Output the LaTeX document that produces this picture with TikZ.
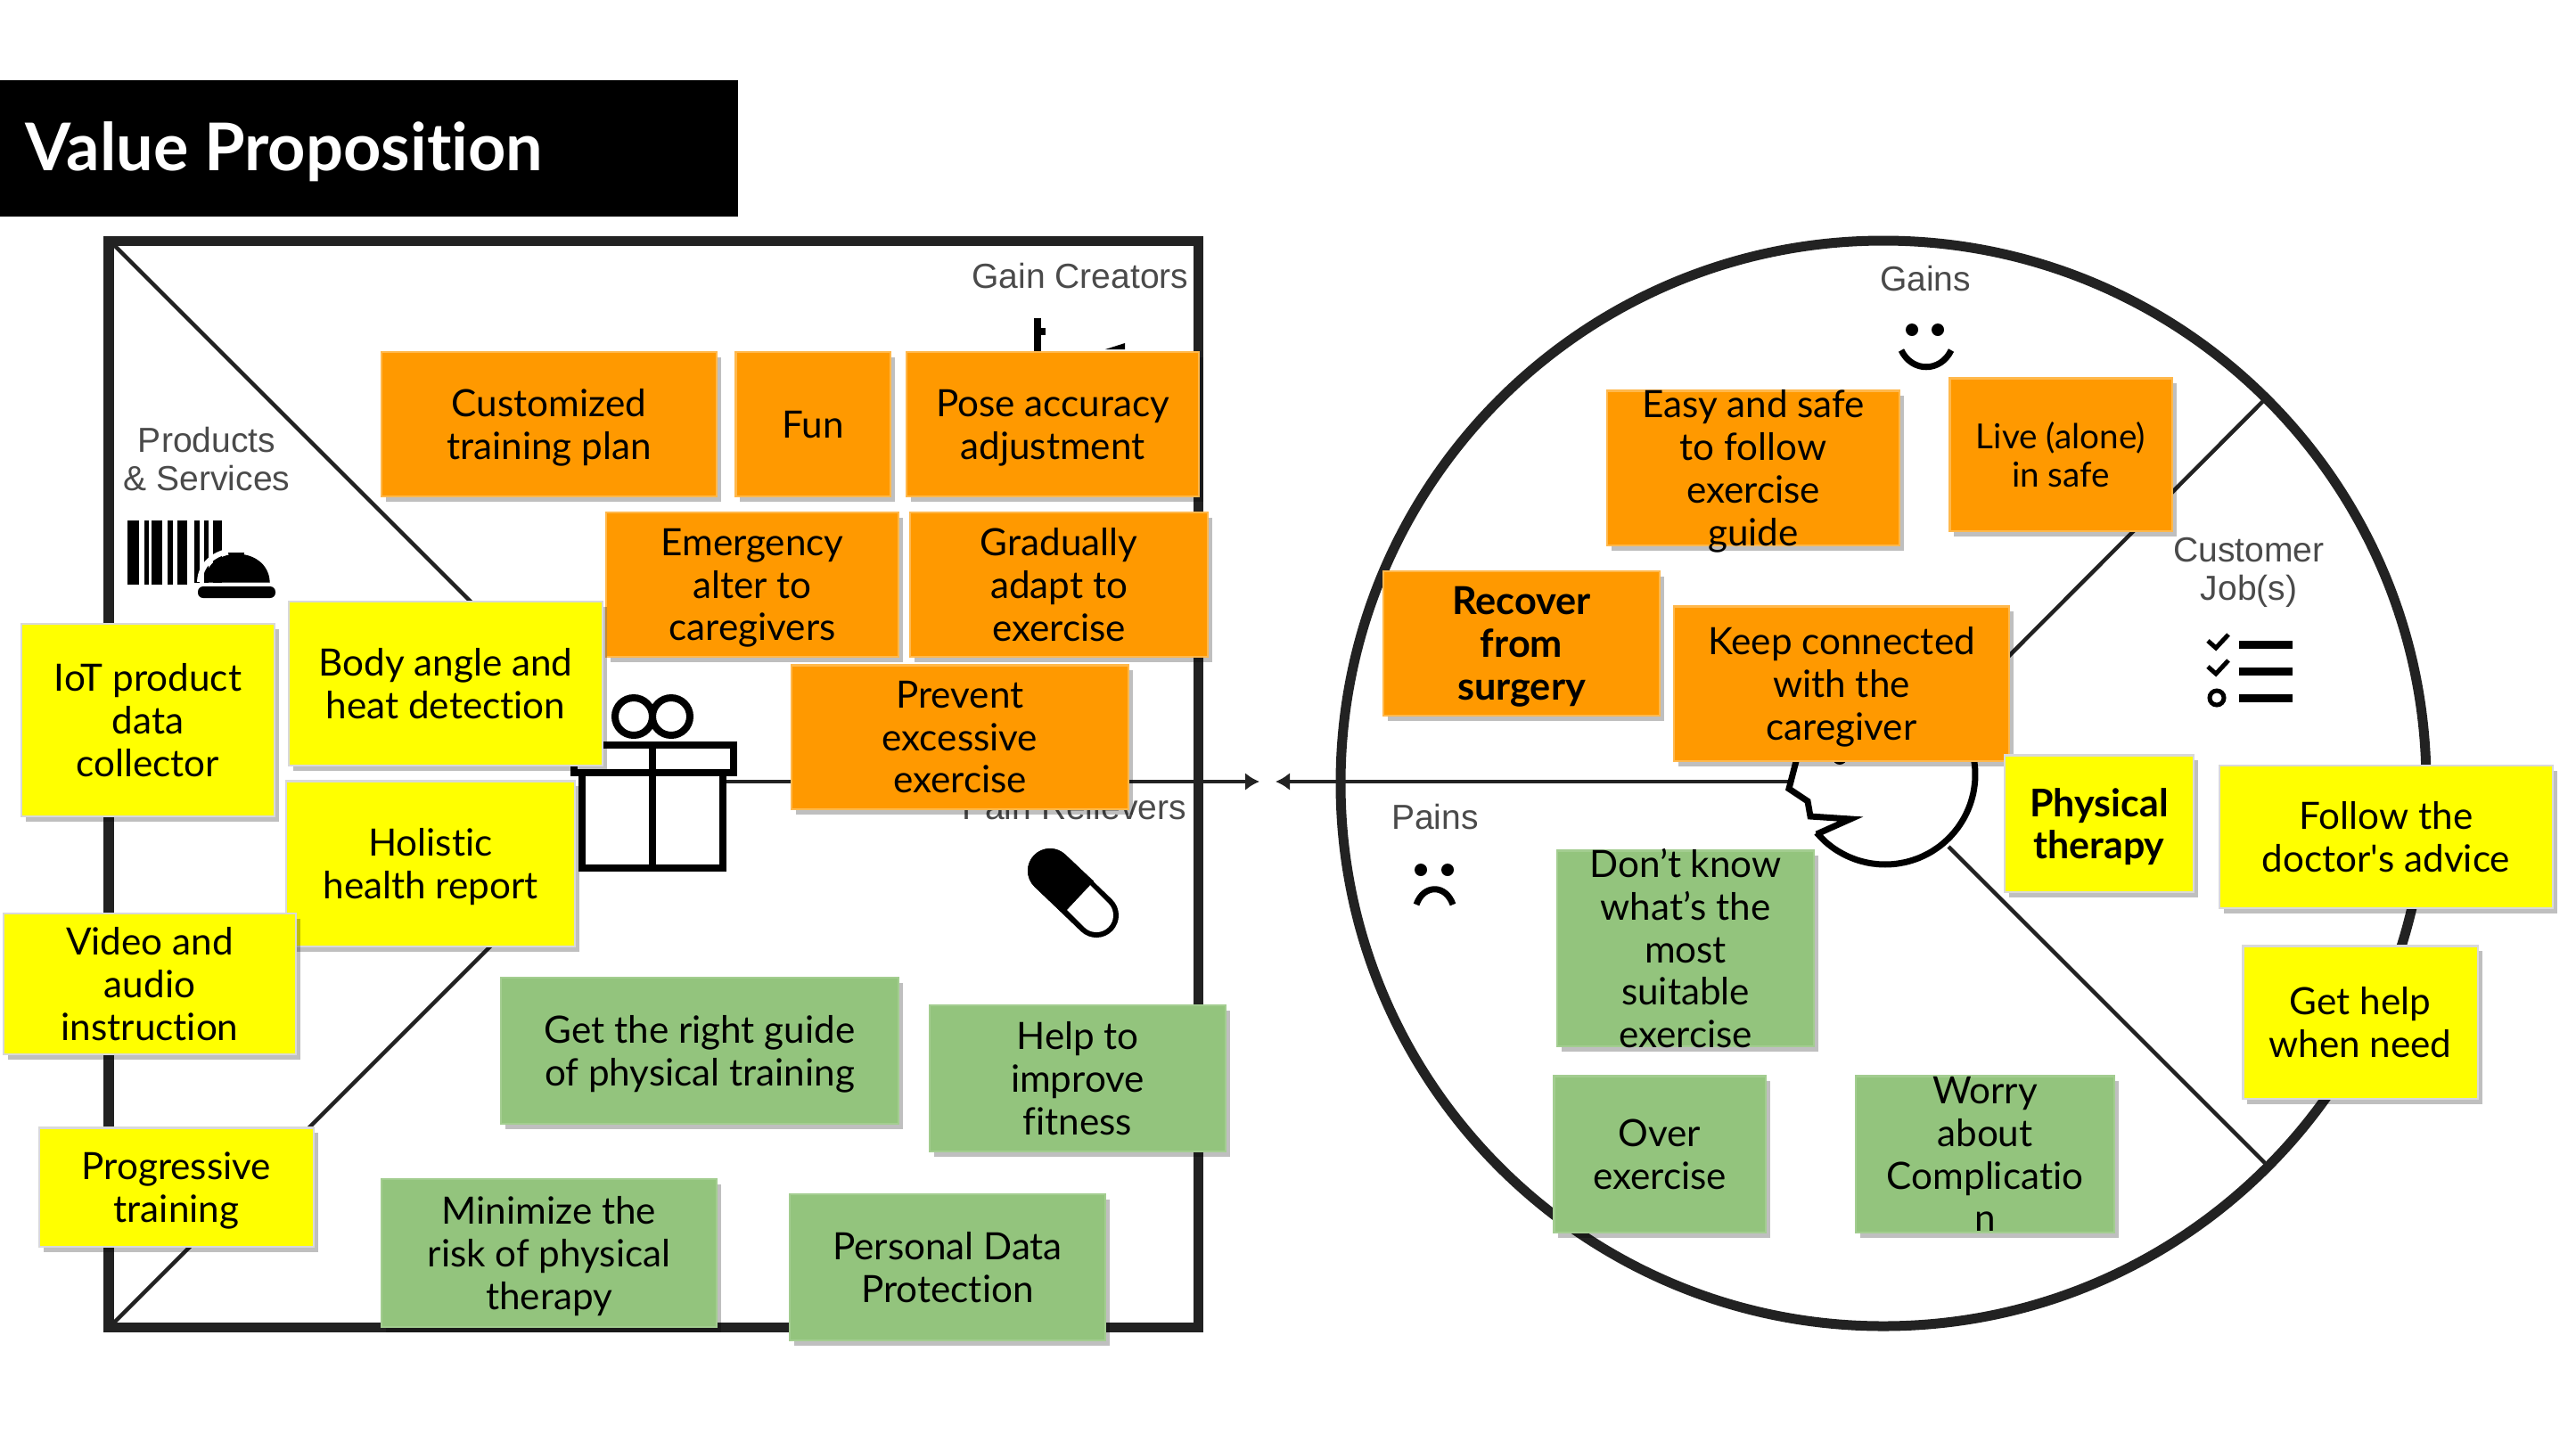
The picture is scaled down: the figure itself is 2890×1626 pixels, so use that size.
\documentclass[tikz,border=0pt]{standalone}
\usepackage{fontspec}
\setmainfont[Ligatures=NoCommon]{Lato}
\newfontfamily\labelfont{Liberation Sans}
\newfontfamily\straightfont{Lato}
\usepackage{xcolor}
\usetikzlibrary{positioning,arrows.meta,shadows}

\definecolor{noteorange}{HTML}{FF9900}
\definecolor{noteyellow}{HTML}{FFFF00}
\definecolor{notegreen}{HTML}{93C47D}
\definecolor{labelgrey}{HTML}{4A4A4A}
\definecolor{frameblack}{HTML}{222222}

\begin{document}
\begin{tikzpicture}[
    x=0.01cm, y=-0.01cm,
    note/.style={rectangle, inner xsep=0pt, inner ysep=-0.4cm, align=center, text=black,
                 font=\fontsize{12}{13.6}\selectfont, line width=0.6pt, text depth=0pt,
                 drop shadow={shadow xshift=0.05cm, shadow yshift=-0.06cm, fill=black, opacity=0.25}},
    orangenote/.style={note, fill=noteorange, draw=noteorange!70!white},
    yellownote/.style={note, fill=noteyellow, draw=black!15},
    greennote/.style={note, fill=notegreen, draw=notegreen!85!white},
    partlabel/.style={inner sep=0pt, align=center, text=labelgrey,
                      font=\labelfont\fontsize{11.1}{12.2}\selectfont},
    frame/.style={draw=frameblack, line width=0.11cm},
    divider/.style={draw=frameblack, line width=0.045cm},
    icon/.style={draw=black, line width=0.08cm},
    >={Latex[length=0.16cm, width=0.2cm]}
]
\useasboundingbox (0,0) rectangle (2890,1626);

% title bar
\fill[black] (0,90) rectangle (828,243);
\node[anchor=west, inner sep=0pt, text=white, font=\bfseries\fontsize{21}{24}\selectfont] (title) at (28,170) {Value Proposition};

% value map and customer profile
\draw[frame] (122,270) rectangle (1344,1489);
\draw[frame] (2113,879) circle[radius=609];

\coordinate (squareTL) at (125,272);
\coordinate (squareBL) at (125,1487);
\coordinate (giftA) at (600,747);
\coordinate (giftB) at (600,1012);
\coordinate (giftR) at (811,877);
\coordinate (tipL) at (1413,877);
\coordinate (tipR) at (1431,877);
\coordinate (faceL) at (2010,877);
\coordinate (headA) at (2190,800);
\coordinate (headB) at (2186,950);
\coordinate (rimA) at (2539,450);
\coordinate (rimB) at (2541,1305);
\draw[divider] (squareTL) -- (giftA);
\draw[divider] (squareBL) -- (giftB);
\draw[divider] (headA) -- (rimA);
\draw[divider] (headB) -- (rimB);
\draw[divider, ->] (giftR) -- (tipL);
\draw[divider, ->] (faceL) -- (tipR);

% gift
\draw[icon] (653,867) rectangle (811,974);
\draw[icon] (644,836) rectangle (823,867);
\draw[icon] (732,836) -- (732,974);
\draw[icon] (711,804) circle[radius=21];
\draw[icon] (753,804) circle[radius=21];

% head
\draw[icon, line width=0.07cm, fill=white] plot[smooth, domain=139.7:-171, samples=40, variable=\a] ({2115+101*cos(\a)},{869+101*sin(\a)})
    -- (2007,885) -- (2028,899) -- (2031,916) -- (2076,919) -- (2038,936);
\fill[black] (2064,850) circle[radius=8];

% part labels and their icons
\node[partlabel] (products) at (232,515) {Products\\\& Services};
\node[partlabel] (creators) at (1212,310) {Gain Creators};
\node[partlabel] (relievers) at (1205,906) {Pain Relievers};
\node[partlabel] (gains) at (2160,313) {Gains};
\node[partlabel] (pains) at (1610,917) {Pains};
\node[partlabel] (jobs) at (2523,642) {Customer\\Job(s)};

% barcode and bell
\foreach \xa/\xb in {143/156,162/167,170/182,188/194,199/210,218/224,229/234,239/249}
    \fill[black] (\xa,584) rectangle (\xb,656);
\draw[black, fill=black] (230,653) .. controls (232,612) and (300,612) .. (302,653) -- cycle;
\draw[white, line width=0.06cm] (224,653) .. controls (226,606) and (306,606) .. (308,653);
\fill[white] (214,654) rectangle (320,658);
\fill[black] (265,620) -- (256,620) arc[start angle=180, end angle=0, radius=9] -- cycle;
\fill[black, rounded corners=0.06cm] (222,658) rectangle (309,671);

% chart stub above the pose note
\fill[black] (1160,357) rectangle (1168,400);
\fill[black] (1168,368) rectangle (1173,376);
\fill[black] (1240,392) -- (1262,385) -- (1262,392) -- cycle;

% capsule
\coordinate (pillA) at (1178,977);
\coordinate (pillS) at (1210,1007);
\coordinate (pillB) at (1230,1027);
\draw[black, line width=0.5cm, line cap=round] (pillA) -- (pillB);
\draw[white, line width=0.38cm, line cap=round] (pillS) -- (pillB);
\draw[black, line width=0.5cm] (pillA) -- (pillS);
\fill[black] (pillA) circle[radius=25];

% smile and frown
\fill[black] (2145,370) circle[radius=7] (2174,370) circle[radius=7];
\draw[black, line width=0.07cm] (2133,393) .. controls (2145,418) and (2177,418) .. (2189,393);
\fill[black] (1594,976) circle[radius=7] (1624,976) circle[radius=7];
\draw[black, line width=0.07cm] (1589,1015) .. controls (1597,992) and (1622,992) .. (1630,1015);

% job list
\foreach \ya in {723,753,783}
    \fill[black] (2512,\ya-4.5) rectangle (2572,\ya+4.5);
\draw[black, line width=0.05cm] (2477,719) -- (2486,727) -- (2500,712);
\draw[black, line width=0.05cm] (2477,748) -- (2486,756) -- (2500,741);
\draw[black, line width=0.05cm] (2487,783) circle[radius=8];

% gain creators
\node[orangenote, minimum width=3.76cm, minimum height=1.62cm] (custom) at (616,476) {Customized\\training plan};
\node[orangenote, minimum width=1.73cm, minimum height=1.62cm] (fun) at (912,476) {Fun};
\node[orangenote, minimum width=3.28cm, minimum height=1.62cm] (pose) at (1181,476) {Pose accuracy\\adjustment};
\node[orangenote, minimum width=3.28cm, minimum height=1.62cm] (alert) at (844,656) {Emergency\\alter to\\caregivers};
\node[orangenote, minimum width=3.34cm, minimum height=1.62cm] (adapt) at (1188,656) {Gradually\\adapt to\\exercise};
\node[orangenote, minimum width=3.78cm, minimum height=1.61cm] (prevent) at (1077,827) {Prevent\\excessive\\exercise};

% products
\node[yellownote, minimum width=2.84cm, minimum height=2.16cm] (iot) at (166,808) {IoT product\\data\\collector};
\node[yellownote, minimum width=3.52cm, minimum height=1.84cm] (body) at (500,767) {Body angle and\\heat detection};
\node[yellownote, minimum width=3.24cm, minimum height=1.85cm] (report) at (483,969) {Holistic\\health report};
\node[yellownote, minimum width=3.28cm, minimum height=1.58cm] (video) at (168,1104) {Video and\\audio\\instruction};
\node[yellownote, minimum width=3.08cm, minimum height=1.33cm] (progress) at (198,1332) {Progressive\\training};

% pain relievers
\node[greennote, minimum width=4.46cm, minimum height=1.64cm] (guide) at (785,1179) {Get the right guide\\of physical training};
\node[greennote, minimum width=3.32cm, minimum height=1.64cm] (fitness) at (1209,1210) {Help to\\improve\\fitness};
\node[greennote, minimum width=3.76cm, minimum height=1.66cm] (risk) at (616,1406) {Minimize the\\risk of physical\\therapy};
\node[greennote, minimum width=3.53cm, minimum height=1.64cm] (privacy) at (1063,1422) {Personal Data\\Protection};

% gains
\node[orangenote, minimum width=3.27cm, minimum height=1.73cm] (easy) at (1967,525) {Easy and safe\\to follow\\exercise\\guide};
\node[orangenote, minimum width=2.49cm, minimum height=1.71cm, font=\fontsize{11}{12}\selectfont] (live) at (2312,510) {Live (alone)\\in safe};
\node[orangenote, minimum width=3.10cm, minimum height=1.62cm, font=\bfseries\fontsize{12.3}{13.6}\selectfont] (recover) at (1707,722) {Recover\\from\\surgery};
\node[orangenote, minimum width=3.76cm, minimum height=1.73cm] (keep) at (2066,767) {Keep connected\\with the\\caregiver};

% customer jobs
\node[yellownote, minimum width=2.12cm, minimum height=1.53cm, font=\bfseries\fontsize{12.2}{13.6}\selectfont] (therapy) at (2355,924) {Physical\\therapy};
\node[yellownote, minimum width=3.74cm, minimum height=1.60cm] (doctor) at (2677,939) {Follow the\\doctor{\straightfont'}s advice};
\node[yellownote, minimum width=2.63cm, minimum height=1.71cm] (help) at (2648,1147) {Get help\\when need};

% pains
\node[greennote, minimum width=2.88cm, minimum height=2.19cm] (unknown) at (1891,1064) {Don't know\\what's the\\most\\suitable\\exercise};
\node[greennote, minimum width=2.37cm, minimum height=1.75cm] (over) at (1862,1295) {Over\\exercise};
\node[greennote, minimum width=2.89cm, minimum height=1.75cm] (worry) at (2227,1295) {Worry\\about\\Complicatio\\n};
\end{tikzpicture}
\end{document}
